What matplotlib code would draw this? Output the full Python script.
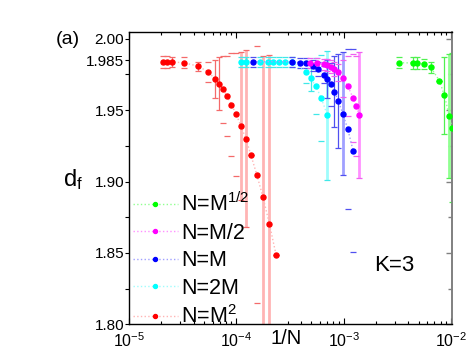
import numpy as np
import matplotlib
matplotlib.use("Agg")
import matplotlib.pyplot as plt
from matplotlib.ticker import LogLocator, NullFormatter, FixedLocator

plt.rcParams['font.family'] = ['Liberation Sans', 'DejaVu Sans']
plt.rcParams['mathtext.fontset'] = 'custom'
plt.rcParams['mathtext.rm'] = 'Liberation Sans'
plt.rcParams['mathtext.it'] = 'Liberation Sans:italic'
plt.rcParams['mathtext.default'] = 'regular'

# === Data: x = 1/N, y = d_f, err = symmetric error ===
# bar style per point: 0 = caps only, 1 = thin bar, 2 = wide pale bar
# N = M^2 (red)
red_x = [2.08e-5, 2.27e-5, 2.51e-5, 3.24e-5, 4.44e-5, 5.46e-5, 6.35e-5, 6.92e-5, 7.54e-5, 8.21e-5,
         9.00e-5, 9.96e-5, 1.10e-4, 1.23e-4, 1.37e-4, 1.55e-4, 1.77e-4, 2.03e-4, 2.35e-4]
red_y = [1.9837, 1.9837, 1.9837, 1.9832, 1.9807, 1.9767, 1.9718, 1.9685, 1.9646, 1.9597,
         1.9539, 1.9471, 1.9390, 1.9298, 1.9183, 1.9048, 1.8891, 1.8704, 1.8483]
red_err = [0.0042, 0.0042, 0.0035, 0.0039, 0.0033, 0.0072, 0.013, 0.0185, 0.0235, 0.028,
           0.036, 0.043, 0.052, 0.062, 0.0, 0.090, 0.099, 0.118, 0.0]
red_bar = [0, 0, 1, 0, 1, 0, 1, 1, 0, 0, 0, 0, 2, 2, 0, 0, 2, 2, 0]

# N = 2M (cyan)
cyan_x = [1.096e-4, 1.234e-4, 1.666e-4, 1.978e-4, 2.215e-4, 2.477e-4, 2.817e-4, 3.287e-4,
          4.467e-4, 4.940e-4, 5.499e-4, 6.161e-4, 7.050e-4]
cyan_y = [1.9840, 1.9840, 1.9839, 1.9839, 1.9839, 1.9839, 1.9839, 1.9837,
          1.9765, 1.9723, 1.9667, 1.9586, 1.9464]
cyan_err = [0.0035, 0.0035, 0.0035, 0.0035, 0.0035, 0.0035, 0.0035, 0.0035,
            0.0077, 0.009, 0.0196, 0.030, 0.045]
cyan_bar = [0, 1, 0, 0, 0, 0, 0, 0, 0, 1, 0, 0, 2]

# N = M (blue)
blue_x = [1.424e-4, 3.287e-4, 3.953e-4, 4.496e-4, 5.190e-4, 5.776e-4, 6.568e-4, 7.005e-4,
          7.551e-4, 8.194e-4, 8.906e-4, 9.809e-4, 1.092e-3, 1.223e-3]
blue_y = [1.9839, 1.9839, 1.9832, 1.9828, 1.9811, 1.9790, 1.9749, 1.9718,
          1.9681, 1.9629, 1.9564, 1.9475, 1.9366, 1.9216]
blue_err = [0.0035, 0.0035, 0.0035, 0.0035, 0.004, 0.005, 0.006, 0.013,
            0.015, 0.025, 0.033, 0.043, 0.056, 0.071]
blue_bar = [0, 0, 0, 0, 0, 0, 0, 1, 0, 1, 1, 2, 0, 0]

# N = M/2 (magenta)
mag_x = [4.897e-4, 5.617e-4, 6.498e-4, 6.961e-4, 7.551e-4, 8.194e-4, 8.926e-4, 9.830e-4,
         1.092e-3, 1.223e-3, 1.305e-3, 1.401e-3]
mag_y = [1.9832, 1.9832, 1.9821, 1.9817, 1.9804, 1.9788, 1.9765, 1.9723,
         1.9667, 1.9585, 1.9530, 1.9464]
mag_err = [0.0035, 0.0035, 0.004, 0.004, 0.0045, 0.005, 0.006, 0.013,
           0.021, 0.031, 0.035, 0.044]
mag_bar = [0, 0, 0, 0, 0, 0, 0, 0, 0, 0, 0, 2]

# N = M^(1/2) (green)
green_x = [3.280e-3, 4.400e-3, 4.856e-3, 5.546e-3, 6.471e-3, 7.782e-3, 8.664e-3, 9.643e-3, 1.017e-2]
green_y = [1.9832, 1.9830, 1.9830, 1.9823, 1.9800, 1.9706, 1.9604, 1.9457, 1.9377]
green_err = [0.004, 0.0039, 0.0039, 0.0033, 0.004, 0.0, 0.027, 0.0434, 0.052]
green_bar = [0, 1, 1, 0, 1, 0, 1, 2, 0]

labels = ["N=M$^{1/2}$", "N=M/2", "N=M", "N=2M", "N=M$^2$"]

y_major = [1.80, 1.85, 1.90, 1.95, 1.985, 2.00]
y_major_labels = ["1.80", "1.85", "1.90", "1.95", "1.985", "2.00"]
y_minor = [1.825, 1.875, 1.925, 1.975]

# === Figure ===
fig = plt.figure(figsize=(4.68, 3.54), dpi=100)
ax = fig.add_axes([0.2756, 0.0839, 0.6902, 0.8249])

series = [
    # x, y, err, bar style, marker colour, thin bar colour, wide bar colour, label
    (red_x, red_y, red_err, red_bar, '#ff0000', '#f46a6a', '#ffb4b4', labels[4]),
    (cyan_x, cyan_y, cyan_err, cyan_bar, '#00ffff', '#40e8e8', '#9ffcfc', labels[3]),
    (blue_x, blue_y, blue_err, blue_bar, '#0000ff', '#5050f0', '#a0a0ff', labels[2]),
    (mag_x, mag_y, mag_err, mag_bar, '#ff00ff', '#f060f0', '#ff90ff', labels[1]),
    (green_x, green_y, green_err, green_bar, '#00ff00', '#50f050', '#90ff90', labels[0]),
]

handles = {}
for xs, ys, errs, bars, col, thin_col, wide_col, lab in series:
    xs = np.array(xs)
    ys = np.array(ys)
    errs = np.array(errs)
    bars = np.array(bars)
    # caps for every point
    eb = ax.errorbar(xs, ys, yerr=errs, fmt='none', ecolor=thin_col, elinewidth=0.8,
                     capsize=2.5, capthick=0.9, zorder=2)
    for lc in eb[2]:
        lc.set_visible(False)
    thin = bars == 1
    wide = bars == 2
    ax.vlines(xs[thin], ys[thin] - errs[thin], ys[thin] + errs[thin],
              color=thin_col, lw=0.9, zorder=2)
    ax.vlines(xs[wide], ys[wide] - errs[wide], ys[wide] + errs[wide],
              color=wide_col, lw=2.0, zorder=1.9)
    h, = ax.plot(xs, ys, ls=':', color=wide_col, lw=1.0, marker='o', ms=3.6,
                 mfc=col, mec=col, zorder=3, label=lab)
    handles[lab] = h

ax.set_xscale('log')
ax.set_xlim(1e-5, 1.02e-2)
ax.set_ylim(1.80, 2.0045)

ax.xaxis.set_major_locator(LogLocator(base=10, numticks=10))
ax.xaxis.set_minor_locator(LogLocator(base=10, subs=np.arange(2, 10), numticks=20))
ax.xaxis.set_minor_formatter(NullFormatter())

ax.yaxis.set_major_locator(FixedLocator(y_major))
ax.set_yticklabels(y_major_labels)
ax.yaxis.set_minor_locator(FixedLocator(y_minor))

ax.tick_params(axis='x', which='both', direction='in', top=True, labelsize=11.5, pad=5, width=0.8)
ax.tick_params(axis='x', which='major', length=4)
ax.tick_params(axis='x', which='minor', length=2.5)
ax.tick_params(axis='y', which='both', direction='out', length=3, width=0.8, labelsize=11, pad=0.5)

for s in ['left', 'bottom', 'top']:
    ax.spines[s].set_linewidth(1.0)
ax.spines['right'].set_color('#808080')
ax.spines['right'].set_linewidth(1.2)

sec = ax.secondary_yaxis('right')
sec.yaxis.set_major_locator(FixedLocator([1.80, 1.85, 1.90, 1.95, 2.00]))
sec.yaxis.set_minor_locator(FixedLocator(y_minor))
sec.tick_params(which='both', direction='in', colors='#808080', labelright=False, width=1.0)
sec.tick_params(which='major', length=4.5)
sec.tick_params(which='minor', length=3)
sec.spines['right'].set_color('#808080')
sec.spines['right'].set_linewidth(1.2)

ax.set_xlabel('1/N', fontsize=14.5, va='center')
ax.xaxis.set_label_coords(0.488, -0.050)

fig.text(73 / 468, 1 - 180 / 354, 'd$_f$', fontsize=17, ha='center', va='center')
fig.text(67.5 / 468, 1 - 39 / 354, '(a)', fontsize=14, ha='center', va='center')
ax.text(0.820, 0.200, 'K=3', fontsize=16, ha='center', va='center', transform=ax.transAxes)

leg = ax.legend([handles[l] for l in labels], labels, loc='upper left',
                bbox_to_anchor=(0.012, 0.450), frameon=False, fontsize=15.5,
                handlelength=2.1, handletextpad=0.15, labelspacing=0.3,
                borderpad=0, borderaxespad=0, markerscale=0.8)

fig.savefig('out.png', dpi=100)
